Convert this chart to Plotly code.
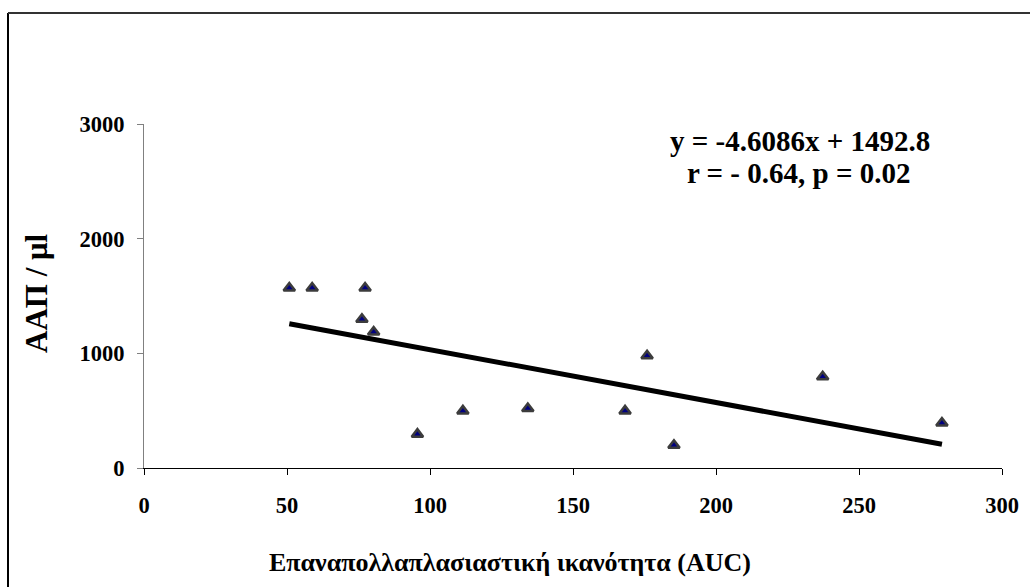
import plotly.graph_objects as go

# Data
auc = [50.8, 58.8, 77.3, 76.2, 80.3, 95.6, 111.5, 134.2, 168.2, 175.9, 185.3, 237.3, 279.0]
aap = [1570, 1570, 1570, 1297, 1186, 295, 498, 519, 498, 979, 198, 795, 393]

slope = -4.6086
intercept = 1492.8

x_ticks = [0, 50, 100, 150, 200, 250, 300]
y_ticks = [0, 1000, 2000, 3000]

eq_line1 = "<b>y = -4.6086x + 1492.8</b>"
eq_line2 = "<b>r = - 0.64, p = 0.02</b>"
x_title = "<b>Επαναπολλαπλασιαστική ικανότητα (AUC)</b>"
y_title = "<b>ΑΑΠ / μl</b>"

font_family = "Liberation Serif"

trend_x = [min(auc), max(auc)]
trend_y = [slope * v + intercept for v in trend_x]

fig = go.Figure()
fig.add_trace(go.Scatter(
    x=trend_x, y=trend_y, mode="lines",
    line=dict(color="black", width=5),
    hoverinfo="skip", showlegend=False,
))
fig.add_trace(go.Scatter(
    x=auc, y=aap, mode="markers",
    marker=dict(symbol="triangle-up", size=10, color="#000080",
                line=dict(color="#3c3c3c", width=2.5)),
    showlegend=False,
))

L, R, T, B = 144, 28, 124, 119
W, H = 1030, 587
pw = W - L - R
ph = H - T - B

def px_x(p):
    return (p - L) / pw

def px_y(p):
    return (H - B - p) / ph

tick_vals_x = [f"<b>{v}</b>" for v in x_ticks]
tick_vals_y = [f"<b>{v}</b>" for v in y_ticks]

fig.update_layout(
    width=W, height=H,
    margin=dict(l=L, r=R, t=T, b=B),
    paper_bgcolor="white", plot_bgcolor="white",
    font=dict(family=font_family, size=20, color="black"),
    xaxis=dict(
        range=[0, 300], tickvals=x_ticks, ticktext=tick_vals_x,
        showgrid=False, zeroline=False, showline=True, linecolor="black", linewidth=1,
        ticks="outside", ticklen=6, tickcolor="black", tickwidth=1,
        tickfont=dict(family=font_family, size=22.5, color="black"),
        ticklabelstandoff=11,
    ),
    yaxis=dict(
        range=[0, 3000], tickvals=y_ticks, ticktext=tick_vals_y,
        showgrid=False, zeroline=False, showline=True, linecolor="#808080", linewidth=1,
        ticks="outside", ticklen=6, tickcolor="#808080", tickwidth=1,
        tickfont=dict(family=font_family, size=22.5, color="black"),
        ticklabelstandoff=8,
    ),
    annotations=[
        dict(text=eq_line1, x=px_x(800), y=px_y(141), xref="paper", yref="paper",
             showarrow=False, xanchor="center", yanchor="middle",
             font=dict(family=font_family, size=29, color="black")),
        dict(text=eq_line2, x=px_x(798.5), y=px_y(173), xref="paper", yref="paper",
             showarrow=False, xanchor="center", yanchor="middle",
             font=dict(family=font_family, size=29, color="black")),
        dict(text=x_title, x=px_x(510), y=px_y(562), xref="paper", yref="paper",
             showarrow=False, xanchor="center", yanchor="middle",
             font=dict(family=font_family, size=26, color="black")),
        dict(text=y_title, x=px_x(36), y=px_y(293), xref="paper", yref="paper",
             showarrow=False, xanchor="center", yanchor="middle", textangle=-90,
             font=dict(family=font_family, size=31, color="black")),
    ],
    shapes=[
        dict(type="line", xref="paper", yref="paper",
             x0=px_x(8), y0=px_y(13), x1=px_x(8), y1=px_y(600),
             line=dict(color="black", width=2)),
        dict(type="line", xref="paper", yref="paper",
             x0=px_x(8), y0=px_y(13), x1=px_x(1040), y1=px_y(13),
             line=dict(color="#333333", width=2)),
    ],
)

fig.write_html("out.html")
